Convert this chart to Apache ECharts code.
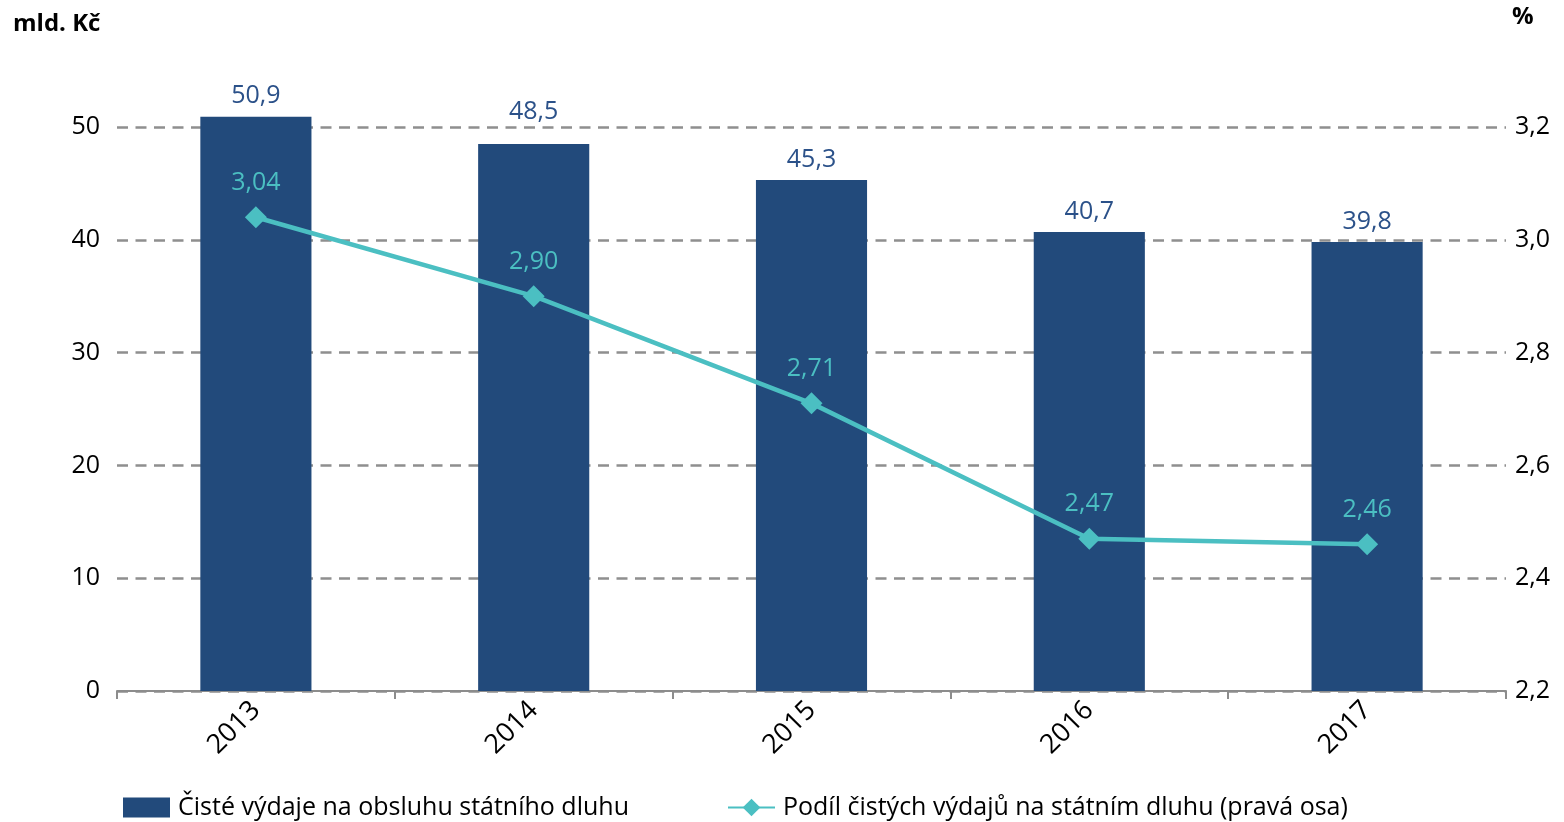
<!DOCTYPE html>
<html><head><meta charset="utf-8">
<script src="https://cdn.jsdelivr.net/npm/echarts@6/dist/echarts.min.js"></script>
<style>html,body{margin:0;padding:0;background:#fff}#c{width:1564px;height:822px}</style>
</head><body><div id="c"></div>
<script>
var years = ['2013','2014','2015','2016','2017'];
var vydaje = [50.9, 48.5, 45.3, 40.7, 39.8];
var podil = [3.04, 2.90, 2.71, 2.47, 2.46];
var leftTicks = [0, 10, 20, 30, 40, 50];
var rightTicks = [2.2, 2.4, 2.6, 2.8, 3.0, 3.2];
var barName = 'Čisté výdaje na obsluhu státního dluhu';
var lineName = 'Podíl čistých výdajů na státním dluhu (pravá osa)';

var FONT = 'Open Sans';
var FS = 25;
var BAR = '#224a7b';
var LINE = '#4bbfc2';
var fmt1 = function(v){ return v.toFixed(1).replace('.', ','); };
var fmt2 = function(v){ return v.toFixed(2).replace('.', ','); };

// label of the 2014 bar is lifted above the 50 gridline, as in the original
var barData = vydaje.map(function(v, i){
  return i === 1 ? { value: v, label: { distance: 20 } } : v;
});

var chart = echarts.init(document.getElementById('c'));
chart.setOption({
  animation: false,
  textStyle: { fontFamily: FONT },
  grid: { left: 117, right: 58, top: 127, bottom: 131 },
  graphic: [
    { type: 'text', left: 13, top: 12, style: { text: 'mld. Kč', font: 'bold 24px "Open Sans"', fill: '#000' } },
    { type: 'text', left: 1512, top: 5, style: { text: '%', font: 'bold 24px "Open Sans"', fill: '#000' } }
  ],
  legend: [
    { data: [{ name: barName, icon: 'rect' }], left: 118, top: 790, itemWidth: 47, itemHeight: 20, itemGap: 0,
      textStyle: { fontFamily: FONT, fontSize: FS, color: '#000', padding: [0,0,0,3] } },
    { data: [{ name: lineName }], left: 722, top: 790, itemWidth: 47, itemHeight: 22, itemGap: 0,
      textStyle: { fontFamily: FONT, fontSize: FS, color: '#000', padding: [0,0,0,3] } }
  ],
  xAxis: {
    type: 'category', data: years,
    axisLine: { lineStyle: { color: '#8c8c8c', width: 2 } },
    axisTick: { show: true, alignWithLabel: false, length: 8, lineStyle: { color: '#8c8c8c', width: 2 } },
    axisLabel: { rotate: 45, fontSize: 27, color: '#000', fontFamily: FONT, margin: 15 }
  },
  yAxis: [
    { type: 'value', min: 0, max: 50, interval: 10,
      axisLine: { show: false }, axisTick: { show: false },
      axisLabel: { fontSize: FS, color: '#000', fontFamily: FONT, margin: 17 },
      splitLine: { show: true, lineStyle: { color: '#8f8f8f', width: 2.5, type: [11, 7.5] } } },
    { type: 'value', min: 2.2, max: 3.2, interval: 0.2, position: 'right',
      axisLine: { show: false }, axisTick: { show: false },
      axisLabel: { fontSize: FS, color: '#000', fontFamily: FONT, margin: 9,
        formatter: function(v){ return v.toFixed(1).replace('.', ','); } },
      splitLine: { show: false } }
  ],
  series: [
    { name: barName, type: 'bar', data: barData, yAxisIndex: 0, barWidth: '40%', clip: false,
      itemStyle: { color: BAR },
      label: { show: true, position: 'top', distance: 8, color: '#2b5189', fontSize: FS, fontFamily: FONT,
        formatter: function(p){ return fmt1(p.value); } } },
    { name: lineName, type: 'line', data: podil, yAxisIndex: 1,
      symbol: 'diamond', symbolSize: 22, z: 3,
      lineStyle: { color: LINE, width: 4.5 }, itemStyle: { color: LINE },
      label: { show: true, position: 'top', distance: 11, color: LINE, fontSize: FS, fontFamily: FONT,
        formatter: function(p){ return fmt2(p.value); } } }
  ]
});
</script></body></html>
